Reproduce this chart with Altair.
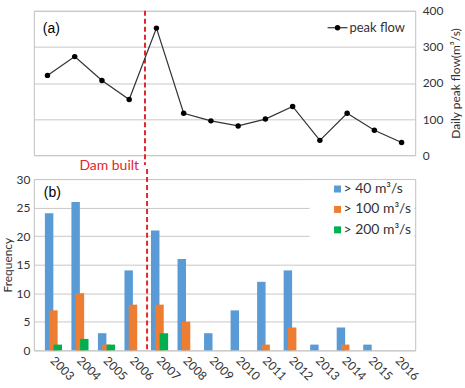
import altair as alt
import pandas as pd

# ---------------- data ----------------
years = list(range(2003, 2017))
peak_flow = [221, 273, 207, 154, 352, 116, 95, 81, 100, 135, 41, 116, 69, 35]
freq_40 = [24, 26, 3, 14, 21, 16, 3, 7, 12, 14, 1, 4, 1, 0]
freq_100 = [7, 10, 1, 8, 8, 5, 0, 0, 1, 4, 0, 1, 0, 0]
freq_200 = [1, 2, 1, 0, 3, 0, 0, 0, 0, 0, 0, 0, 0, 0]
classes = ["> 40 m³/s", "> 100 m³/s", "> 200 m³/s"]
class_colors = ["#5B9BD5", "#ED7D31", "#00B050"]
dam_year = [2006.58]
flow_ticks = [0, 100, 200, 300, 400]
freq_ticks = [0, 5, 10, 15, 20, 25, 30]
series_name = ["peak flow"]

# ---------------- layout ----------------
W = 383
H1 = 145
H2 = 172
GAP = 22
FONT = "Lato"
RED = "#E3262B"
LINE = "#333333"

xscale = alt.Scale(domain=[2002.5, 2016.5], nice=False, zero=False)

flow_df = pd.DataFrame({"year": years, "flow": peak_flow})
dam_df = pd.DataFrame({"year": dam_year})
series_df = pd.DataFrame({"label": series_name})
rows = []
for cls, vals in zip(classes, [freq_40, freq_100, freq_200]):
    for y, v in zip(years, vals):
        rows.append({"year": y, "cls": cls, "value": v})
bars_df = pd.DataFrame(rows)
cls_df = pd.DataFrame({"cls": classes, "color": class_colors})

# ---------------- top panel ----------------
x_top = alt.X("year:Q", scale=xscale, axis=None)
y_top = alt.Y(
    "flow:Q",
    scale=alt.Scale(domain=[0, 400], nice=False),
    axis=alt.Axis(
        orient="right", values=flow_ticks, title="Daily peak flow(m³/s)",
        labelPadding=7, titlePadding=8, titleAngle=270, titleBaseline="top",
        titleFontSize=12, grid=True,
    ),
)

line = alt.Chart(flow_df).mark_line(strokeWidth=1.2, color=LINE).encode(x=x_top, y=y_top)
points = alt.Chart(flow_df).mark_circle(color="black", size=30, opacity=1).encode(x=x_top, y=y_top)
dam_top = alt.Chart(dam_df).mark_rule(color=RED, strokeDash=[5, 3], strokeWidth=2).encode(
    x=x_top, y=alt.value(0), y2=alt.value(H1 + GAP - 12)
)
dam_text = alt.Chart(dam_df).mark_text(
    text="Dam built", align="right", dx=-6, color=RED, font=FONT, fontSize=14, baseline="middle"
).encode(x=x_top, y=alt.value(H1 + 11))
label_a = alt.Chart(dam_df).mark_text(
    text="(a)", align="left", baseline="middle", font="Liberation Sans", fontSize=14, color="black"
).encode(x=alt.value(9), y=alt.value(18))

# legend of the top panel
leg_line = alt.Chart(series_df).mark_rule(color=LINE, strokeWidth=1.2).encode(
    x=alt.value(295), x2=alt.value(315), y=alt.value(17)
)
leg_dot = alt.Chart(series_df).mark_circle(color="black", size=30, opacity=1).encode(
    x=alt.value(305), y=alt.value(17)
)
leg_txt = alt.Chart(series_df).mark_text(
    align="left", baseline="middle", font=FONT, fontSize=13, color=LINE
).encode(x=alt.value(317), y=alt.value(17), text="label:N")

top = alt.layer(dam_top, line, points, dam_text, label_a, leg_line, leg_dot, leg_txt).properties(
    width=W, height=H1
)

# ---------------- bottom panel ----------------
x_bot = alt.X(
    "year:Q", scale=xscale,
    axis=alt.Axis(
        values=years, format="d", title=None, labelAngle=45, labelAlign="left",
        labelBaseline="middle", labelPadding=8, grid=False, labelFontSize=12,
        labelOverlap=False,
    ),
)
y_bot = alt.Y(
    "value:Q",
    scale=alt.Scale(domain=[0, 30], nice=False),
    axis=alt.Axis(
        values=freq_ticks, title="Frequency", labelPadding=4, titlePadding=2,
        titleFontSize=12, grid=True,
    ),
)
color_enc = alt.Color("cls:N", scale=alt.Scale(domain=classes, range=class_colors), legend=None)

bar_layers = []
for cls, off in zip(classes, [-3.0, 1.3, 5.7]):
    bar_layers.append(
        alt.Chart(bars_df)
        .transform_filter((alt.datum.cls == cls) & (alt.datum.value > 0))
        .mark_bar(width=8.5, xOffset=off)
        .encode(x=x_bot, y=y_bot, color=color_enc)
    )
dam_bot = alt.Chart(dam_df).mark_rule(color=RED, strokeDash=[5, 3], strokeWidth=2).encode(
    x=x_bot, y=alt.value(-10), y2=alt.value(H2)
)
label_b = alt.Chart(dam_df).mark_text(
    text="(b)", align="left", baseline="middle", font="Liberation Sans", fontSize=14, color="black"
).encode(x=alt.value(10), y=alt.value(14))

# legend of the bottom panel
leg_box = alt.Chart(series_df).mark_rect(color="white").encode(
    x=alt.value(277), x2=alt.value(382), y=alt.value(1), y2=alt.value(59)
)
leg_items = []
for i, (cls, col) in enumerate(zip(classes, class_colors)):
    item_df = cls_df[cls_df["cls"] == cls]
    yy = 10 + i * 20.5
    leg_items.append(
        alt.Chart(item_df).mark_square(size=49, color=col, opacity=1).encode(
            x=alt.value(305), y=alt.value(yy)
        )
    )
    leg_items.append(
        alt.Chart(item_df).mark_text(
            align="left", baseline="middle", font=FONT, fontSize=14, color=LINE
        ).encode(x=alt.value(311), y=alt.value(yy), text="cls:N")
    )

bottom = alt.layer(leg_box, *bar_layers, dam_bot, label_b, *leg_items).properties(width=W, height=H2)

chart = (
    alt.vconcat(top, bottom, spacing=-7)
    .properties(padding={"left": 0, "top": 3, "right": 2, "bottom": 2})
    .configure_view(stroke="#bfbfbf", strokeWidth=1)
    .configure_axis(
        domain=False, ticks=False, gridColor="#c8c8c8", gridWidth=1,
        labelFont=FONT, labelFontSize=12, labelColor=LINE,
        titleFont=FONT, titleFontWeight="normal", titleColor=LINE,
    )
)

chart.save("out.html", embed_options={"renderer": "svg", "actions": False})
